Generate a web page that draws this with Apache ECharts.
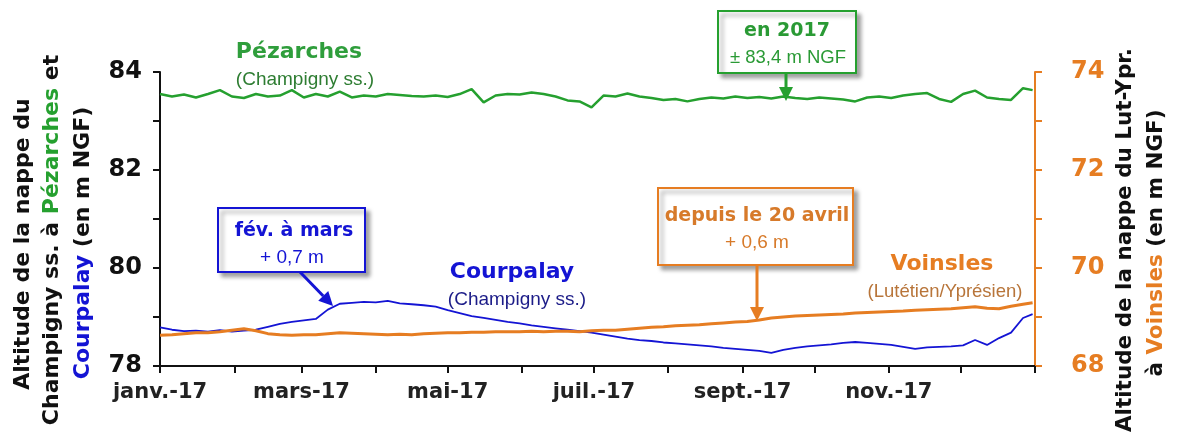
<!DOCTYPE html>
<html>
<head>
<meta charset="utf-8">
<script src="https://cdn.jsdelivr.net/npm/echarts@6/dist/echarts.min.js"></script>
<style>
html,body{margin:0;padding:0;background:#fff;}
#main{width:1178px;height:436px;}
</style>
</head>
<body>
<div id="main"></div>
<script>
'use strict';

// jours d'echantillonnage (jour de l'annee 2017), un point tous les 5 jours + 31/12
var sampleStep = 5;
var lastDay = 364;

// Courpalay (Champigny ss.) - axe gauche, m NGF
var courpalay = [
	78.79, 78.74, 78.71, 78.72, 78.70, 78.73, 78.70, 78.72, 78.74, 78.80,
	78.86, 78.90, 78.93, 78.96, 79.15, 79.27, 79.29, 79.31, 79.30, 79.33,
	79.28, 79.26, 79.24, 79.21, 79.14, 79.08, 79.02, 78.98, 78.94, 78.90,
	78.87, 78.83, 78.80, 78.77, 78.74, 78.71, 78.68, 78.64, 78.60, 78.56,
	78.53, 78.51, 78.48, 78.46, 78.44, 78.42, 78.40, 78.37, 78.35, 78.33,
	78.31, 78.27, 78.33, 78.37, 78.40, 78.42, 78.44, 78.47, 78.49, 78.47,
	78.45, 78.43, 78.39, 78.35, 78.38, 78.39, 78.40, 78.42, 78.53, 78.43,
	78.57, 78.68, 78.98, 79.06
];

// Voinsles (Lutetien/Ypresien) - axe droit, m NGF
var voinsles = [
	68.63, 68.64, 68.66, 68.68, 68.68, 68.70, 68.73, 68.76, 68.72, 68.66,
	68.64, 68.63, 68.64, 68.64, 68.66, 68.68, 68.67, 68.66, 68.65, 68.64,
	68.65, 68.64, 68.66, 68.67, 68.68, 68.68, 68.69, 68.69, 68.70, 68.70,
	68.70, 68.71, 68.70, 68.71, 68.71, 68.70, 68.72, 68.73, 68.73, 68.75,
	68.77, 68.79, 68.80, 68.82, 68.83, 68.84, 68.86, 68.88, 68.90, 68.91,
	68.94, 68.98, 69.00, 69.02, 69.03, 69.04, 69.05, 69.06, 69.08, 69.09,
	69.10, 69.11, 69.12, 69.14, 69.15, 69.16, 69.17, 69.19, 69.21, 69.18,
	69.17, 69.22, 69.26, 69.29
];

// Pezarches (Champigny ss.) - axe gauche, m NGF
var pezarches = [
	83.55, 83.50, 83.54, 83.48, 83.55, 83.63, 83.50, 83.47, 83.55, 83.50,
	83.52, 83.63, 83.48, 83.55, 83.50, 83.60, 83.48, 83.52, 83.50, 83.55,
	83.53, 83.51, 83.50, 83.52, 83.49, 83.55, 83.65, 83.38, 83.52, 83.55,
	83.54, 83.58, 83.55, 83.50, 83.42, 83.40, 83.28, 83.52, 83.50, 83.56,
	83.50, 83.47, 83.43, 83.45, 83.40, 83.45, 83.48, 83.46, 83.50, 83.47,
	83.49, 83.46, 83.50, 83.47, 83.45, 83.48, 83.46, 83.44, 83.40, 83.48,
	83.50, 83.47, 83.52, 83.55, 83.57, 83.45, 83.39, 83.55, 83.62, 83.48,
	83.45, 83.43, 83.67, 83.63
];

var monthNames = ['janv.', 'févr.', 'mars', 'avr.', 'mai', 'juin', 'juil.', 'août', 'sept.', 'oct.', 'nov.', 'déc.'];
var leftTicks = [78, 80, 82, 84];
var rightTicks = [68, 70, 72, 74];

var GREEN = '#25a02f', BLUE = '#1414d4', ORANGE = '#e67d22';
var BOLD = 'bold {s}px "DejaVu Sans"';
var REG = '{s}px "Liberation Sans", Arial';
function f(tpl, s) { return tpl.replace('{s}', s); }

// axe des x : un jour par categorie, du 01/01/2017 au 01/01/2018
var days = [];
for (var d = 0; d <= 365; d++) {
	var dt = new Date(Date.UTC(2017, 0, 1 + d));
	days.push(dt.toISOString().slice(0, 10));
}
var sampleDays = [];
for (var k = 0; k <= 360; k += sampleStep) sampleDays.push(k);
sampleDays.push(lastDay);

function toPairs(values) {
	return values.map(function (v, i) { return [days[sampleDays[i]], v]; });
}
function isMonthStart(v) { return v.slice(8) === '01'; }

function arrow(x1, y1, x2, y2, color) {
	var dx = x2 - x1, dy = y2 - y1, len = Math.sqrt(dx * dx + dy * dy);
	var ux = dx / len, uy = dy / len, hl = 14, hw = 7;
	var bx = x2 - ux * hl, by = y2 - uy * hl;
	return [
		{ type: 'line', z: 100, shape: { x1: x1, y1: y1, x2: bx, y2: by }, style: { stroke: color, lineWidth: 3 } },
		{ type: 'polygon', z: 100, shape: { points: [[x2, y2], [bx - uy * hw, by + ux * hw], [bx + uy * hw, by - ux * hw]] }, style: { fill: color } }
	];
}
function box(x, y, w, h, color) {
	return {
		type: 'rect', z: 100, shape: { x: x, y: y, width: w, height: h },
		style: { fill: '#fff', stroke: color, lineWidth: 2, shadowBlur: 4, shadowOffsetX: 4, shadowOffsetY: 4, shadowColor: 'rgba(0,0,0,0.35)' }
	};
}
function label(x, y, txt, font, color, rot, rich) {
	return {
		type: 'text', z: 101, x: x, y: y, rotation: rot || 0,
		style: {
			text: txt, font: font, fill: color, rich: rich,
			align: 'center', verticalAlign: 'middle', textAlign: 'center', textVerticalAlign: 'middle'
		}
	};
}

function titleRich(size) {
	var fnt = f(BOLD, size);
	return {
		k: { fill: '#111', font: fnt },
		g: { fill: GREEN, font: fnt },
		b: { fill: BLUE, font: fnt },
		o: { fill: ORANGE, font: fnt }
	};
}
var richL = titleRich(22), richR = titleRich(21.5);

var graphics = [
	// titres des axes
	label(23, 244, '{k|Altitude de la nappe du}', f(BOLD, 22), '#111', Math.PI / 2, richL),
	label(52, 240, '{k|Champigny ss. à }{g|Pézarches}{k| et}', f(BOLD, 22), '#111', Math.PI / 2, richL),
	label(83, 243, '{b|Courpalay}{k| (en m NGF)}', f(BOLD, 22), '#111', Math.PI / 2, richL),
	label(1125, 240, '{k|Altitude de la nappe du Lut-Ypr.}', f(BOLD, 21.5), '#111', Math.PI / 2, richR),
	label(1156, 243, '{k|à }{o|Voinsles}{k| (en m NGF)}', f(BOLD, 21.5), '#111', Math.PI / 2, richR),
	// noms des piezometres
	label(299, 52, 'Pézarches', f(BOLD, 22), '#2f9e3c'),
	label(305, 80, '(Champigny ss.)', f(REG, 19), '#2e7d32'),
	label(512, 272, 'Courpalay', f(BOLD, 22), BLUE),
	label(517, 300, '(Champigny ss.)', f(REG, 19), '#1c1c88'),
	label(942, 264, 'Voinsles', f(BOLD, 22), ORANGE),
	label(945, 292, '(Lutétien/Yprésien)', f(REG, 18.5), '#b8753a'),
	// annotations
	box(718, 11, 138, 62, GREEN),
	label(787, 31, 'en 2017', f(BOLD, 19), '#2a9a35'),
	label(788, 58, '± 83,4 m NGF', f(REG, 18.5), '#2a9a35'),
	box(218, 208, 147, 64, BLUE),
	label(294, 231, 'fév. à mars', f(BOLD, 19), BLUE),
	label(292, 258, '+ 0,7 m', f(REG, 19), BLUE),
	box(658, 188, 195, 77, ORANGE),
	label(757, 216, 'depuis le 20 avril', f(BOLD, 19), '#d77a2a'),
	label(757, 243, '+ 0,6 m', f(REG, 19), '#d77a2a')
].concat(
	arrow(786, 73, 786, 101, GREEN),
	arrow(300, 272, 333, 306, BLUE),
	arrow(757, 265, 757, 321, ORANGE)
);

var myChart = echarts.init(document.getElementById('main'), null, { renderer: 'canvas' });
var option = {
	animation: false,
	backgroundColor: '#fff',
	grid: { left: 160, right: 143, top: 72, bottom: 70, containLabel: false, outerBoundsMode: 'none' },
	xAxis: {
		type: 'category',
		data: days,
		boundaryGap: false,
		axisLine: { lineStyle: { color: '#111', width: 2 } },
		axisTick: { interval: function (i, v) { return isMonthStart(v); }, length: 7, lineStyle: { color: '#111', width: 2 } },
		axisLabel: {
			interval: function (i, v) {
				var m = +v.slice(5, 7);
				return isMonthStart(v) && v.slice(0, 4) === '2017' && m % 2 === 1;
			},
			formatter: function (v) { return monthNames[+v.slice(5, 7) - 1] + '-17'; },
			color: '#222', fontFamily: 'DejaVu Sans', fontWeight: 'bold', fontSize: 21, margin: 16
		},
		splitLine: { show: false }
	},
	yAxis: [
		{
			type: 'value', min: 78, max: 84, interval: 1, position: 'left',
			axisLine: { show: true, lineStyle: { color: '#111', width: 2 } },
			axisTick: { show: true, length: 7, lineStyle: { color: '#111', width: 2 } },
			axisLabel: {
				formatter: function (v) { return leftTicks.indexOf(v) >= 0 ? String(v) : ''; },
				color: '#111', fontFamily: 'DejaVu Sans', fontWeight: 'bold', fontSize: 24, margin: 18
			},
			splitLine: { show: false }
		},
		{
			type: 'value', min: 68, max: 74, interval: 1, position: 'right',
			axisLine: { show: true, lineStyle: { color: ORANGE, width: 2 } },
			axisTick: { show: true, length: 7, lineStyle: { color: ORANGE, width: 2 } },
			axisLabel: {
				formatter: function (v) { return rightTicks.indexOf(v) >= 0 ? String(v) : ''; },
				color: ORANGE, fontFamily: 'DejaVu Sans', fontWeight: 'bold', fontSize: 24, margin: 36
			},
			splitLine: { show: false }
		}
	],
	series: [
		{
			name: 'Courpalay', type: 'line', yAxisIndex: 0, data: toPairs(courpalay),
			showSymbol: false, lineStyle: { color: BLUE, width: 1.8 }, z: 3
		},
		{
			name: 'Voinsles', type: 'line', yAxisIndex: 1, data: toPairs(voinsles),
			showSymbol: false, lineStyle: { color: ORANGE, width: 3 }, z: 4
		},
		{
			name: 'Pézarches', type: 'line', yAxisIndex: 0, data: toPairs(pezarches),
			showSymbol: false, lineStyle: { color: GREEN, width: 2.5 }, z: 5
		}
	],
	graphic: graphics
};
myChart.setOption(option);
</script>
</body>
</html>
